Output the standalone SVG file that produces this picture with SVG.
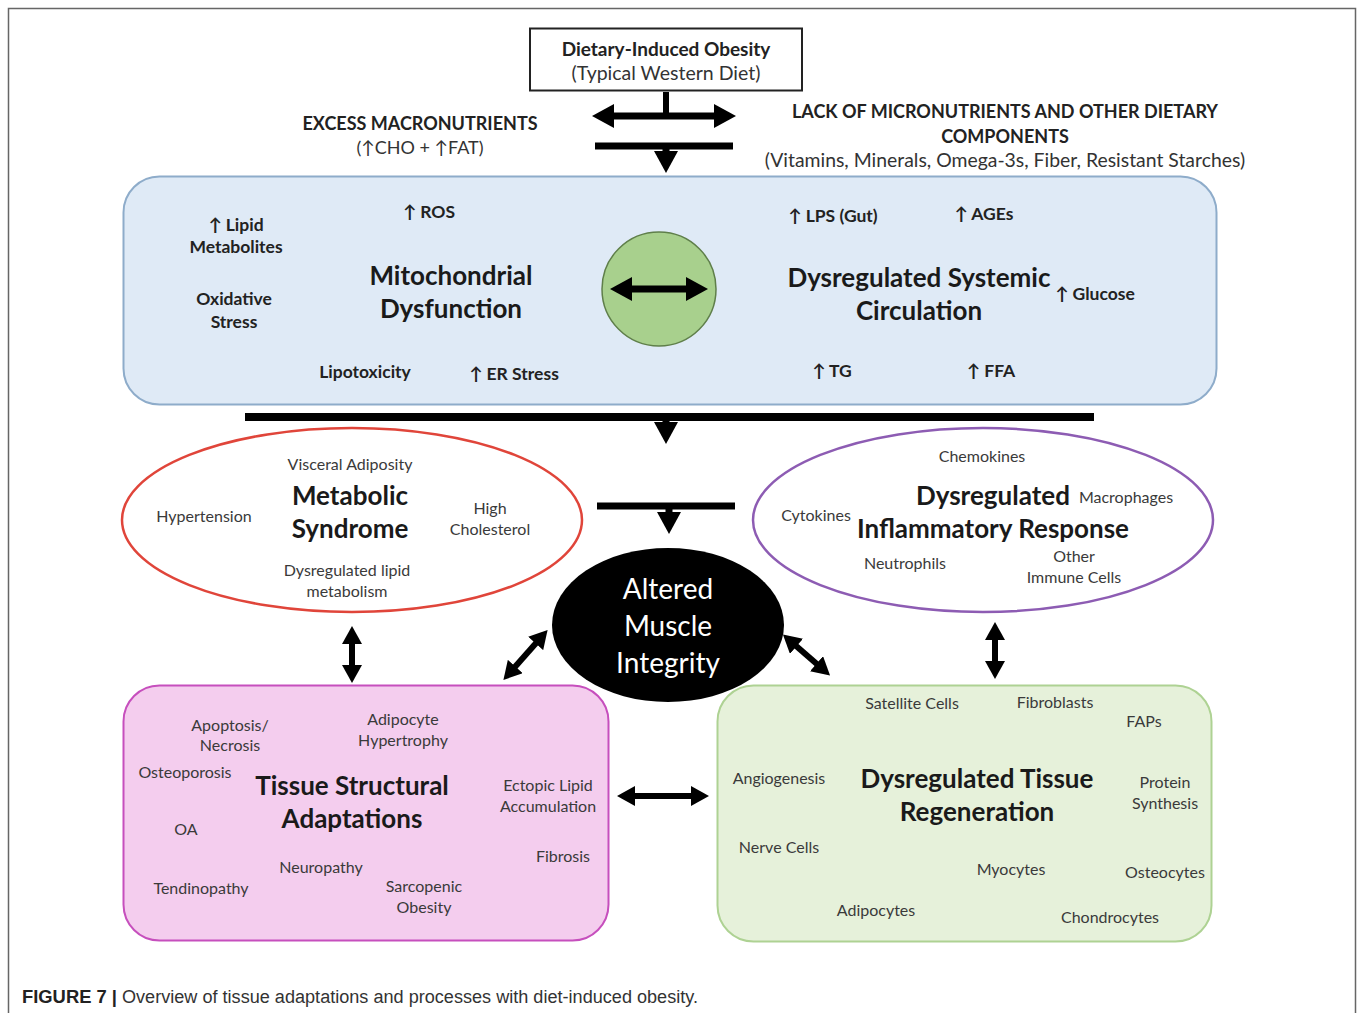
<svg xmlns="http://www.w3.org/2000/svg" width="1358" height="1013" viewBox="0 0 1358 1013">
<defs>
<style>
.t{font-family:Lato,"Open Sans","Liberation Sans",sans-serif;text-anchor:middle;fill:#222}
.b{font-weight:bold}
.r{fill:#333}
.s{font-size:16px;fill:#3a3a3a}
.m{font-size:17.5px;font-weight:bold}
.big{font-size:26px;font-weight:bold;fill:#1a1a1a}
.w{fill:#fff;font-size:28px}
.ln{stroke:#000;stroke-width:7;fill:none}
</style>
<marker id="ah" markerUnits="userSpaceOnUse" markerWidth="22" markerHeight="24" refX="2" refY="12" orient="auto-start-reverse" viewBox="0 0 22 24">
<path d="M0,0 L22,12 L0,24 z" fill="#000"/>
</marker>
<marker id="ahs" markerUnits="userSpaceOnUse" markerWidth="18" markerHeight="20" refX="2" refY="10" orient="auto-start-reverse" viewBox="0 0 18 20">
<path d="M0,0 L18,10 L0,20 z" fill="#000"/>
</marker>
</defs>
<rect width="1358" height="1013" fill="#fff"/>
<g id="frame" fill="none">
<path d="M8.5,1013 V8.5 H1355.5 V1013" stroke="#666" stroke-width="1.5"/>
</g>

<g id="connectors">
<line x1="666" y1="92" x2="666" y2="116" stroke="#000" stroke-width="6"/>
<line class="ln" x1="612" y1="116" x2="716" y2="116" marker-start="url(#ah)" marker-end="url(#ah)"/>
<line class="ln" x1="595" y1="146" x2="733" y2="146"/>
<line x1="666" y1="146" x2="666" y2="153" stroke="#000" stroke-width="7" marker-end="url(#ah)"/>
<line x1="245" y1="417" x2="1094" y2="417" stroke="#000" stroke-width="8"/>
<line x1="666" y1="417" x2="666" y2="424" stroke="#000" stroke-width="7" marker-end="url(#ah)"/>
<line class="ln" x1="597" y1="506" x2="735" y2="506"/>
<line x1="669" y1="506" x2="669" y2="514" stroke="#000" stroke-width="7" marker-end="url(#ah)"/>
<line x1="537" y1="642" x2="514" y2="668" stroke="#000" stroke-width="6" marker-start="url(#ahs)" marker-end="url(#ahs)"/>
<line x1="795" y1="645" x2="818" y2="665" stroke="#000" stroke-width="6" marker-start="url(#ahs)" marker-end="url(#ahs)"/>
<line x1="352" y1="642" x2="352" y2="667" stroke="#000" stroke-width="6" marker-start="url(#ahs)" marker-end="url(#ahs)"/>
<line x1="995" y1="638" x2="995" y2="663" stroke="#000" stroke-width="6" marker-start="url(#ahs)" marker-end="url(#ahs)"/>
<line x1="633" y1="796" x2="693" y2="796" stroke="#000" stroke-width="6" marker-start="url(#ahs)" marker-end="url(#ahs)"/>
</g>

<g id="top-node">
<rect x="530" y="28.5" width="272" height="62" fill="#fff" stroke="#222" stroke-width="2"/>
<text class="t b" x="666" y="56" font-size="19">Dietary-Induced Obesity</text>
<text class="t r" x="666" y="80" font-size="19.5">(Typical Western Diet)</text>
</g>

<g id="excess">
<text class="t b" x="420" y="130" font-size="18">EXCESS MACRONUTRIENTS</text>
<text class="t r" x="420" y="154" font-size="18">(↑CHO + ↑FAT)</text>
</g>

<g id="lack">
<text class="t b" x="1005" y="118" font-size="18">LACK OF MICRONUTRIENTS AND OTHER DIETARY</text>
<text class="t b" x="1005" y="143" font-size="18">COMPONENTS</text>
<text class="t r" x="1005" y="167" font-size="19.4">(Vitamins, Minerals, Omega-3s, Fiber, Resistant Starches)</text>
</g>

<g id="systemic-box">
<rect x="123.5" y="176.5" width="1093" height="228" rx="36" fill="#dfeaf6" stroke="#8eacca" stroke-width="2"/>
<circle cx="659" cy="289" r="57" fill="#a8d08d" stroke="#5f7f4a" stroke-width="1.5"/>
<line x1="630" y1="289" x2="688" y2="289" stroke="#000" stroke-width="7" marker-start="url(#ah)" marker-end="url(#ah)"/>
<text class="t m" x="236" y="231">↑ Lipid</text>
<text class="t m" x="236" y="253">Metabolites</text>
<text class="t m" x="429" y="218">↑ ROS</text>
<text class="t big" x="451" y="285">Mitochondrial</text>
<text class="t big" x="451" y="318">Dysfunction</text>
<text class="t m" x="234" y="305">Oxidative</text>
<text class="t m" x="234" y="328">Stress</text>
<text class="t m" x="365" y="378">Lipotoxicity</text>
<text class="t m" x="514" y="380">↑ ER Stress</text>
<text class="t m" x="833" y="222">↑ LPS (Gut)</text>
<text class="t m" x="984" y="220">↑ AGEs</text>
<text class="t big" x="919" y="287">Dysregulated Systemic</text>
<text class="t big" x="919" y="320">Circulation</text>
<text class="t m" x="1095" y="300">↑ Glucose</text>
<text class="t m" x="832" y="377">↑ TG</text>
<text class="t m" x="991" y="377">↑ FFA</text>
</g>

<g id="metabolic-syndrome">
<ellipse cx="352" cy="520" rx="230" ry="92" fill="#fff" stroke="#e0453a" stroke-width="2.5"/>
<text class="t s" x="350" y="470">Visceral Adiposity</text>
<text class="t big" x="350" y="505">Metabolic</text>
<text class="t big" x="350" y="538">Syndrome</text>
<text class="t s" x="204" y="522">Hypertension</text>
<text class="t s" x="490" y="514">High</text>
<text class="t s" x="490" y="535">Cholesterol</text>
<text class="t s" x="347" y="576">Dysregulated lipid</text>
<text class="t s" x="347" y="597">metabolism</text>
</g>

<g id="inflammatory">
<ellipse cx="983" cy="520" rx="230" ry="92" fill="#fff" stroke="#8d5cb3" stroke-width="2.5"/>
<text class="t s" x="982" y="462">Chemokines</text>
<text class="t big" x="993" y="505">Dysregulated</text>
<text class="t s" x="1126" y="503">Macrophages</text>
<text class="t s" x="816" y="521">Cytokines</text>
<text class="t big" x="993" y="538">Inflammatory Response</text>
<text class="t s" x="905" y="569">Neutrophils</text>
<text class="t s" x="1074" y="562">Other</text>
<text class="t s" x="1074" y="583">Immune Cells</text>
</g>

<g id="muscle">
<ellipse cx="668" cy="625" rx="116" ry="77" fill="#000"/>
<text class="t w" x="668" y="599">Altered</text>
<text class="t w" x="668" y="636">Muscle</text>
<text class="t w" x="668" y="673">Integrity</text>
</g>

<g id="tissue-structural">
<rect x="123.5" y="685.5" width="485" height="255" rx="36" fill="#f4cdee" stroke="#c64fbd" stroke-width="2"/>
<text class="t s" x="230" y="731">Apoptosis/</text>
<text class="t s" x="230" y="751">Necrosis</text>
<text class="t s" x="403" y="725">Adipocyte</text>
<text class="t s" x="403" y="746">Hypertrophy</text>
<text class="t s" x="185" y="778">Osteoporosis</text>
<text class="t big" x="352" y="795">Tissue Structural</text>
<text class="t big" x="352" y="828">Adaptations</text>
<text class="t s" x="548" y="791">Ectopic Lipid</text>
<text class="t s" x="548" y="812">Accumulation</text>
<text class="t s" x="186" y="835">OA</text>
<text class="t s" x="563" y="862">Fibrosis</text>
<text class="t s" x="321" y="873">Neuropathy</text>
<text class="t s" x="201" y="894">Tendinopathy</text>
<text class="t s" x="424" y="892">Sarcopenic</text>
<text class="t s" x="424" y="913">Obesity</text>
</g>

<g id="tissue-regeneration">
<rect x="717.5" y="685.5" width="494" height="256" rx="36" fill="#e6f1da" stroke="#aed293" stroke-width="2"/>
<text class="t s" x="912" y="709">Satellite Cells</text>
<text class="t s" x="1055" y="708">Fibroblasts</text>
<text class="t s" x="1144" y="727">FAPs</text>
<text class="t s" x="779" y="784">Angiogenesis</text>
<text class="t big" x="977" y="788">Dysregulated Tissue</text>
<text class="t big" x="977" y="821">Regeneration</text>
<text class="t s" x="1165" y="788">Protein</text>
<text class="t s" x="1165" y="809">Synthesis</text>
<text class="t s" x="779" y="853">Nerve Cells</text>
<text class="t s" x="1011" y="875">Myocytes</text>
<text class="t s" x="1165" y="878">Osteocytes</text>
<text class="t s" x="876" y="916">Adipocytes</text>
<text class="t s" x="1110" y="923">Chondrocytes</text>
</g>

<g id="caption">
<text x="22" y="1003" font-family="'Liberation Sans Narrow','Liberation Sans',sans-serif" font-size="18" font-weight="bold" fill="#222" textLength="95" lengthAdjust="spacingAndGlyphs">FIGURE 7 |</text>
<text x="122" y="1003" font-family="'Liberation Sans Narrow','Liberation Sans',sans-serif" font-size="18" fill="#333" textLength="576" lengthAdjust="spacingAndGlyphs">Overview of tissue adaptations and processes with diet-induced obesity.</text>
</g>
</svg>
